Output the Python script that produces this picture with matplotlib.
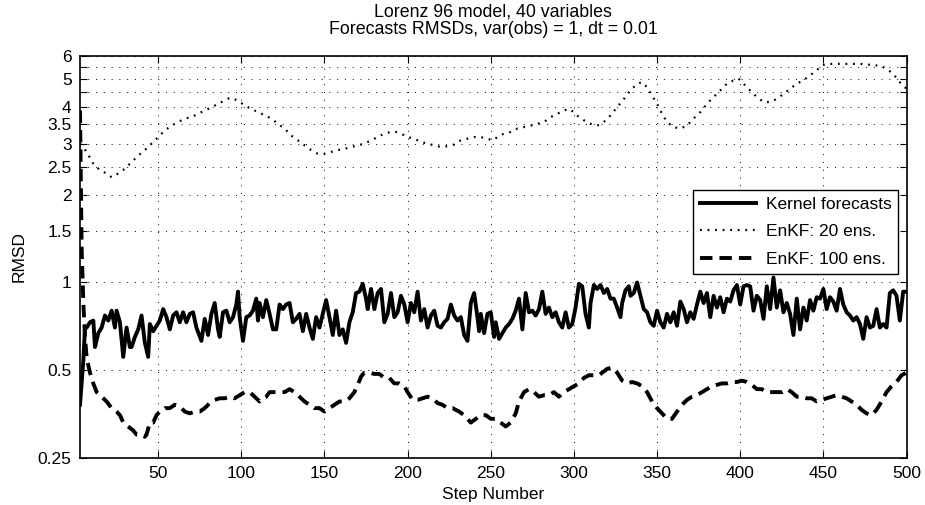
import numpy as np
import matplotlib
matplotlib.use("Agg")
import matplotlib.pyplot as plt
from matplotlib.ticker import FixedLocator, FixedFormatter, NullLocator

plt.rcParams['font.family'] = ['Liberation Sans', 'DejaVu Sans']
plt.rcParams['font.size'] = 12.5

# kernel forecast RMSD per step
kernel_steps = [
    3, 5, 6, 7, 9, 11, 12, 14, 16, 18, 20, 22, 24, 25, 27, 29, 31, 33, 34, 36,
    38, 40, 42, 44, 45, 47, 49, 51, 53, 55, 57, 59, 61, 63, 65, 67, 69, 71, 73, 76,
    78, 80, 82, 84, 86, 87, 89, 91, 93, 95, 97, 98, 99, 101, 103, 105, 107, 109, 110, 111,
    113, 115, 117, 119, 121, 123, 125, 127, 129, 131, 133, 135, 137, 139, 141, 143, 145, 147, 149, 151,
    153, 155, 157, 159, 161, 163, 165, 167, 169, 171, 173, 175, 176, 178, 180, 182, 184, 186, 188, 190,
    192, 194, 196, 198, 200, 202, 204, 206, 208, 210, 212, 214, 216, 218, 220, 222, 224, 226, 228, 230,
    232, 234, 236, 238, 240, 242, 243, 244, 246, 248, 250, 252, 253, 255, 257, 259, 261, 263, 265, 267,
    269, 271, 273, 275, 277, 279, 281, 283, 285, 287, 289, 291, 293, 295, 297, 299, 301, 303, 305, 307,
    309, 310, 312, 314, 316, 318, 320, 322, 324, 326, 328, 329, 331, 333, 334, 336, 338, 340, 342, 344,
    346, 348, 350, 352, 354, 356, 358, 360, 362, 364, 366, 368, 370, 372, 374, 376, 378, 380, 382, 384,
    386, 388, 390, 392, 394, 396, 398, 400, 402, 404, 406, 408, 410, 412, 414, 416, 418, 420, 422, 424,
    426, 428, 430, 432, 434, 436, 438, 440, 442, 444, 446, 448, 450, 452, 454, 456, 458, 460, 462, 464,
    466, 468, 470, 472, 474, 476, 478, 480, 482, 484, 486, 488, 490, 492, 494, 496, 498, 500,
]
kernel_rmsd = [
    0.38, 0.54, 0.70, 0.70, 0.73, 0.74, 0.60, 0.67, 0.70, 0.77, 0.74, 0.80, 0.70, 0.80, 0.73, 0.555, 0.70, 0.60, 0.60, 0.65,
    0.69, 0.77, 0.62, 0.555, 0.72, 0.68, 0.71, 0.74, 0.81, 0.76, 0.69, 0.77, 0.79, 0.73, 0.79, 0.73, 0.78, 0.79, 0.70, 0.63,
    0.75, 0.66, 0.78, 0.85, 0.69, 0.65, 0.79, 0.80, 0.73, 0.76, 0.84, 0.93, 0.76, 0.63, 0.76, 0.77, 0.80, 0.88, 0.74, 0.85,
    0.76, 0.87, 0.78, 0.69, 0.69, 0.84, 0.81, 0.84, 0.85, 0.73, 0.75, 0.78, 0.68, 0.78, 0.70, 0.64, 0.76, 0.70, 0.78, 0.87,
    0.76, 0.66, 0.80, 0.66, 0.69, 0.62, 0.73, 0.79, 0.92, 0.93, 0.99, 0.88, 0.81, 0.95, 0.81, 0.92, 0.95, 0.73, 0.78, 0.92,
    0.76, 0.79, 0.90, 0.84, 0.73, 0.85, 0.79, 0.93, 0.74, 0.81, 0.70, 0.77, 0.80, 0.71, 0.70, 0.73, 0.75, 0.84, 0.77, 0.74,
    0.76, 0.66, 0.63, 0.85, 0.92, 0.76, 0.68, 0.78, 0.67, 0.78, 0.79, 0.65, 0.73, 0.64, 0.67, 0.70, 0.72, 0.75, 0.80, 0.88,
    0.69, 0.92, 0.79, 0.80, 0.77, 0.81, 0.93, 0.78, 0.82, 0.76, 0.79, 0.73, 0.70, 0.79, 0.70, 0.72, 0.82, 0.99, 0.97, 0.78,
    0.70, 0.85, 0.98, 0.95, 0.98, 0.92, 0.95, 0.88, 0.88, 0.82, 0.76, 0.85, 0.94, 0.97, 0.90, 0.92, 1.00, 0.90, 0.81, 0.79,
    0.73, 0.71, 0.80, 0.73, 0.70, 0.78, 0.73, 0.79, 0.71, 0.86, 0.81, 0.73, 0.79, 0.75, 0.84, 0.93, 0.85, 0.92, 0.76, 0.90,
    0.82, 0.89, 0.79, 0.88, 0.86, 0.94, 0.98, 0.84, 0.97, 0.98, 0.97, 0.80, 0.90, 0.87, 0.75, 0.97, 0.81, 1.04, 0.82, 0.94,
    0.79, 0.85, 0.78, 0.66, 0.88, 0.69, 0.82, 0.74, 0.87, 0.80, 0.89, 0.88, 0.95, 0.81, 0.89, 0.86, 0.80, 0.95, 0.84, 0.79,
    0.77, 0.74, 0.76, 0.72, 0.64, 0.76, 0.70, 0.71, 0.81, 0.70, 0.72, 0.70, 0.92, 0.94, 0.90, 0.74, 0.93, 0.93,
]

# EnKF with 20 members
enkf20_steps = [
    3, 7, 11, 15, 19, 22, 26, 30, 34, 38, 42, 46, 50, 54, 58, 62, 66, 70, 74, 78,
    82, 86, 90, 93, 95, 98, 102, 106, 110, 114, 118, 122, 126, 130, 134, 138, 142, 146, 150, 154,
    158, 162, 166, 170, 174, 178, 182, 186, 190, 193, 196, 200, 204, 208, 212, 216, 220, 224, 228, 232,
    236, 240, 244, 248, 251, 254, 258, 262, 266, 270, 274, 278, 282, 286, 290, 294, 297, 300, 303, 306,
    310, 314, 318, 322, 326, 330, 334, 338, 341, 344, 347, 350, 353, 356, 360, 364, 368, 372, 376, 380,
    384, 388, 392, 396, 399, 402, 406, 410, 414, 418, 422, 426, 430, 434, 438, 442, 446, 449, 452, 456,
    460, 464, 468, 472, 476, 480, 484, 488, 492, 496, 500,
]
enkf20_rmsd = [
    3.00, 2.81, 2.56, 2.43, 2.37, 2.30, 2.37, 2.46, 2.59, 2.73, 2.85, 3.00, 3.16, 3.33, 3.46, 3.56, 3.66, 3.70, 3.80, 3.90,
    4.00, 4.11, 4.22, 4.31, 4.28, 4.22, 4.06, 3.95, 3.85, 3.75, 3.66, 3.51, 3.38, 3.20, 3.08, 2.96, 2.85, 2.77, 2.77, 2.81,
    2.85, 2.88, 2.92, 2.96, 3.00, 3.08, 3.16, 3.25, 3.29, 3.29, 3.25, 3.16, 3.12, 3.04, 3.00, 2.96, 2.92, 2.94, 2.98, 3.08,
    3.12, 3.16, 3.16, 3.12, 3.08, 3.16, 3.25, 3.29, 3.38, 3.42, 3.46, 3.51, 3.56, 3.70, 3.80, 3.90, 3.95, 3.85, 3.70, 3.61,
    3.51, 3.46, 3.56, 3.75, 4.00, 4.27, 4.57, 4.82, 4.88, 4.69, 4.39, 4.11, 3.80, 3.56, 3.42, 3.38, 3.46, 3.66, 3.85, 4.11,
    4.34, 4.57, 4.82, 4.95, 5.02, 4.82, 4.57, 4.34, 4.17, 4.17, 4.27, 4.45, 4.63, 4.82, 4.95, 5.15, 5.36, 5.57, 5.64, 5.64,
    5.64, 5.64, 5.64, 5.64, 5.62, 5.57, 5.57, 5.43, 5.21, 4.88, 4.63,
]

# EnKF with 100 members
enkf100_steps = [
    3, 4, 5, 6, 7, 9, 11, 13, 15, 19, 22, 25, 27, 29, 32, 35, 37, 40, 42, 43,
    45, 47, 49, 51, 54, 57, 60, 63, 66, 69, 72, 75, 78, 81, 84, 87, 90, 93, 96, 99,
    102, 105, 108, 111, 113, 115, 117, 120, 123, 126, 129, 132, 135, 138, 141, 144, 147, 150, 153, 156,
    159, 162, 165, 168, 170, 172, 174, 177, 180, 183, 186, 189, 192, 195, 198, 200, 203, 206, 209, 212,
    215, 218, 221, 224, 227, 231, 234, 238, 241, 244, 247, 250, 253, 256, 259, 262, 265, 267, 270, 273,
    276, 279, 282, 285, 288, 291, 294, 297, 300, 303, 306, 309, 312, 315, 317, 320, 323, 326, 329, 332,
    335, 338, 341, 344, 347, 350, 353, 356, 359, 362, 365, 368, 371, 374, 377, 380, 383, 386, 389, 392,
    395, 398, 401, 404, 407, 410, 413, 416, 419, 422, 425, 428, 431, 434, 437, 440, 443, 446, 449, 452,
    455, 458, 461, 464, 467, 470, 473, 476, 479, 482, 485, 488, 491, 494, 497, 500,
]
enkf100_rmsd = [
    3.90, 1.30, 0.85, 0.65, 0.55, 0.49, 0.45, 0.42, 0.41, 0.39, 0.37, 0.36, 0.35, 0.33, 0.32, 0.31, 0.30, 0.30, 0.295, 0.30,
    0.33, 0.33, 0.35, 0.36, 0.37, 0.37, 0.38, 0.375, 0.36, 0.355, 0.36, 0.36, 0.37, 0.385, 0.395, 0.40, 0.40, 0.405, 0.40, 0.41,
    0.42, 0.42, 0.405, 0.39, 0.40, 0.405, 0.42, 0.42, 0.42, 0.42, 0.43, 0.42, 0.405, 0.39, 0.38, 0.37, 0.37, 0.36, 0.37, 0.38,
    0.39, 0.39, 0.40, 0.42, 0.445, 0.475, 0.49, 0.49, 0.485, 0.485, 0.47, 0.47, 0.45, 0.45, 0.44, 0.42, 0.395, 0.395, 0.40, 0.405,
    0.40, 0.385, 0.38, 0.37, 0.37, 0.36, 0.35, 0.33, 0.34, 0.35, 0.35, 0.34, 0.34, 0.33, 0.32, 0.33, 0.355, 0.39, 0.42, 0.43,
    0.42, 0.405, 0.41, 0.41, 0.42, 0.405, 0.42, 0.43, 0.44, 0.45, 0.47, 0.48, 0.48, 0.48, 0.49, 0.505, 0.51, 0.49, 0.46, 0.45,
    0.455, 0.45, 0.44, 0.42, 0.39, 0.37, 0.355, 0.34, 0.34, 0.36, 0.38, 0.395, 0.405, 0.41, 0.42, 0.43, 0.44, 0.445, 0.45, 0.45,
    0.455, 0.455, 0.46, 0.455, 0.445, 0.43, 0.43, 0.42, 0.42, 0.42, 0.42, 0.43, 0.42, 0.405, 0.405, 0.40, 0.40, 0.39, 0.395, 0.40,
    0.405, 0.41, 0.405, 0.40, 0.39, 0.38, 0.365, 0.355, 0.35, 0.365, 0.39, 0.42, 0.44, 0.455, 0.48, 0.49,
]

ytick_vals = [0.25, 0.5, 1, 1.5, 2, 2.5, 3, 3.5, 4, 4.5, 5, 5.5, 6]
ytick_text = ['0.25', '0.5', '1', '1.5', '2', '2.5', '3', '3.5', '4', '', '5', '', '6']

fig = plt.figure(figsize=(9.25, 5.05), dpi=100)
ax = fig.add_axes([0.0865, 0.0937, 0.8935, 0.7953])

ax.plot(kernel_steps, kernel_rmsd, color='black', lw=2.8, label='Kernel forecasts')
ax.plot(enkf20_steps, enkf20_rmsd, color='black', lw=1.6, linestyle=(0, (0.8, 2.6)),
        label='EnKF: 20 ens.')
ax.plot(enkf100_steps, enkf100_rmsd, color='black', lw=2.8, linestyle=(0, (3.2, 1.8)),
        label='EnKF: 100 ens.')

ax.set_yscale('log')
ax.set_xlim(3, 500)
ax.set_ylim(0.25, 6)
ax.xaxis.set_major_locator(FixedLocator(np.arange(50, 501, 50)))
ax.yaxis.set_major_locator(FixedLocator(ytick_vals))
ax.yaxis.set_major_formatter(FixedFormatter(ytick_text))
ax.yaxis.set_minor_locator(NullLocator())
ax.xaxis.set_minor_locator(NullLocator())

ax.tick_params(direction='in', length=5, width=0.8, top=True, right=True, pad=6)
ax.grid(True, color='black', lw=0.7, linestyle=(0, (1, 7)))
for sp in ax.spines.values():
    sp.set_linewidth(1.2)

ax.set_title('Lorenz 96 model, 40 variables\nForecasts RMSDs, var(obs) = 1, dt = 0.01',
             fontsize=12.8, linespacing=1.05, pad=16)
ax.set_xlabel('Step Number', labelpad=4)
ax.set_ylabel('RMSD', labelpad=8)

leg = ax.legend(loc='upper right', bbox_to_anchor=(0.99, 0.6665), fancybox=False,
                edgecolor='black', framealpha=1, handlelength=3.2, handletextpad=0.55,
                borderpad=0.4, labelspacing=0.7, borderaxespad=0)
leg.get_frame().set_linewidth(1.0)

fig.savefig('out.png', dpi=100)
